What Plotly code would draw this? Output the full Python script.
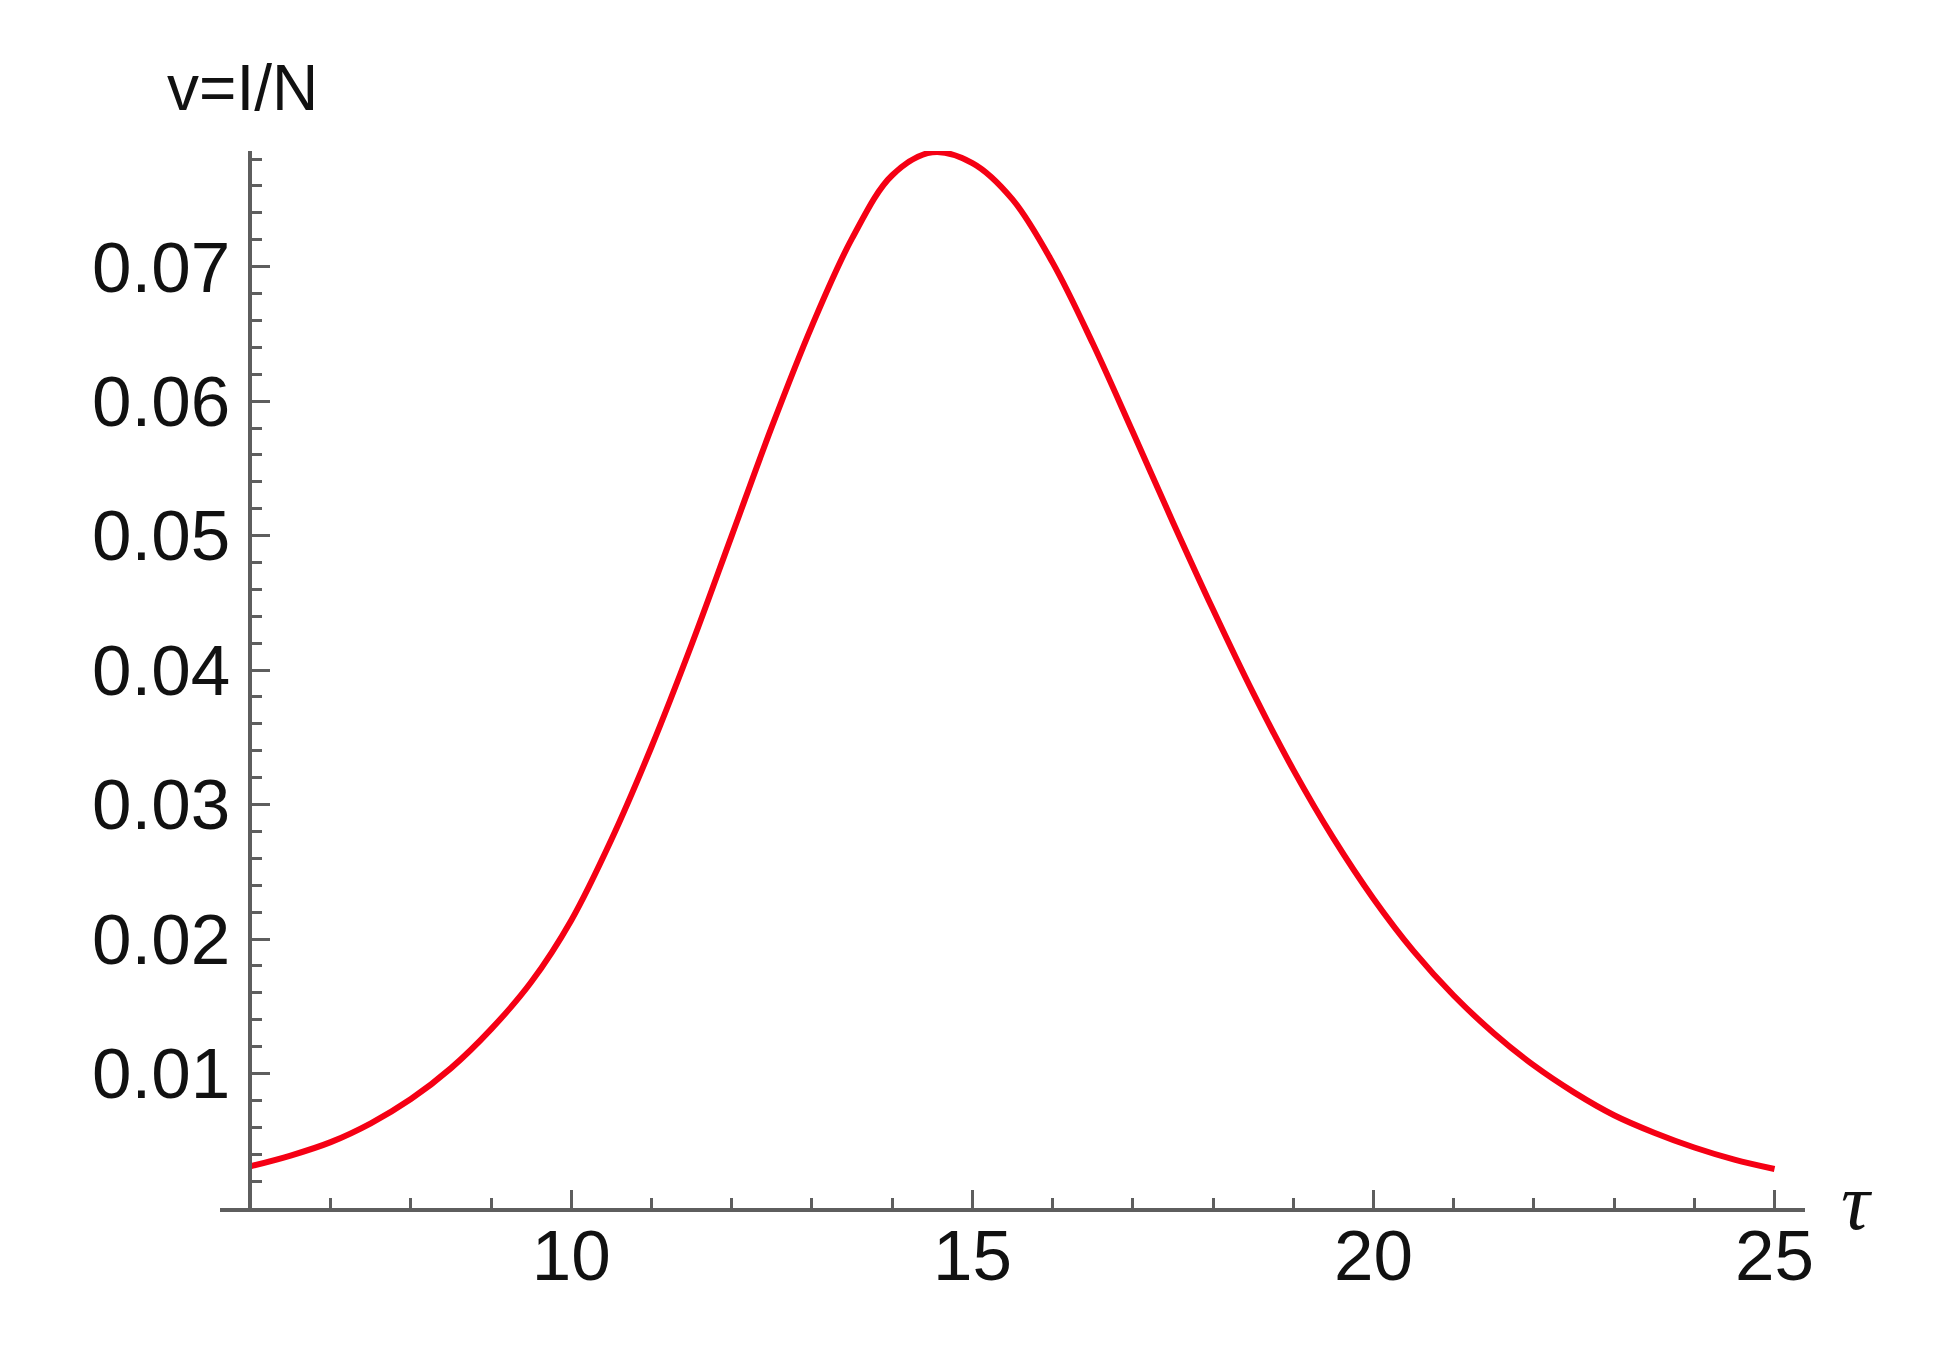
import plotly.graph_objects as go

# values
tau = [6.0, 6.5, 7.0, 7.5, 8.0, 8.5, 9.0, 9.5, 10.0, 10.5, 11.0, 11.5, 12.0,
       12.5, 13.0, 13.5, 14.0, 14.5, 15.0, 15.5, 16.0, 16.5, 17.0, 17.5,
       18.0, 18.5, 19.0, 19.5, 20.0, 20.5, 21.0, 21.5, 22.0, 22.5, 23.0,
       23.5, 24.0, 24.5, 25.0]
v = [0.0031, 0.0039, 0.0049, 0.0063, 0.0081, 0.0104, 0.0133, 0.0168, 0.0214,
     0.0274, 0.0343, 0.0419, 0.0500, 0.0581, 0.0656, 0.0721, 0.0768, 0.0785,
     0.0777, 0.0750, 0.0703, 0.0643, 0.0577, 0.0510, 0.0445, 0.0383, 0.0326,
     0.0275, 0.0230, 0.0191, 0.0158, 0.0130, 0.0106, 0.0086, 0.0069, 0.0056,
     0.0045, 0.0036, 0.0029]

x_ticks = [10, 15, 20, 25]
y_ticks = [0.01, 0.02, 0.03, 0.04, 0.05, 0.06, 0.07]
y_labels = ["0.01", "0.02", "0.03", "0.04", "0.05", "0.06", "0.07"]

x_range = [5.62, 25.38]
y_range = [0, 0.0786]
axis_color = "#5e5e5e"
font = dict(family="Liberation Sans, Arial", size=71, color="#111111")

fig = go.Figure()
fig.add_trace(go.Scatter(x=tau, y=v, mode="lines",
                         line=dict(color="#f50014", width=6, shape="spline")))

# the page body adds an 8px offset, so margins are trimmed to compensate
fig.update_layout(
    width=1940, height=1355,
    margin=dict(l=212, r=143, t=143, b=155),
    paper_bgcolor="white", plot_bgcolor="white",
    showlegend=False, font=font,
)
fig.update_xaxes(
    range=x_range, tickmode="array", tickvals=x_ticks,
    ticks="inside", ticklen=18, tickwidth=3, tickcolor=axis_color,
    showline=True, linecolor=axis_color, linewidth=4,
    showgrid=False, zeroline=False, tickfont=font, ticklabelstandoff=-17,
    minor=dict(tickmode="linear", tick0=0, dtick=1, ticks="inside",
               ticklen=10, tickwidth=3, tickcolor=axis_color),
)
fig.update_yaxes(
    range=y_range, tickmode="array", tickvals=y_ticks, ticktext=y_labels,
    anchor="free", position=(6 - x_range[0]) / (x_range[1] - x_range[0]),
    ticks="inside", ticklen=18, tickwidth=3, tickcolor=axis_color,
    showline=True, linecolor=axis_color, linewidth=4,
    showgrid=False, zeroline=False, tickfont=font, ticklabelstandoff=4,
    minor=dict(tickmode="linear", tick0=0, dtick=0.002, ticks="inside",
               ticklen=10, tickwidth=3, tickcolor=axis_color),
)

fig.add_annotation(text="v=I/N", x=6, xref="x", y=1, yref="paper",
                   xanchor="center", yanchor="bottom", yshift=25, xshift=-8,
                   showarrow=False, font=dict(font, size=64))
fig.add_annotation(text="<i>τ</i>", x=1, xref="paper", y=0, yref="y",
                   xanchor="left", yanchor="middle", xshift=34, yshift=6,
                   showarrow=False,
                   font=dict(family="Liberation Serif", size=80, color="#111111"))

fig.write_html("out.html")
